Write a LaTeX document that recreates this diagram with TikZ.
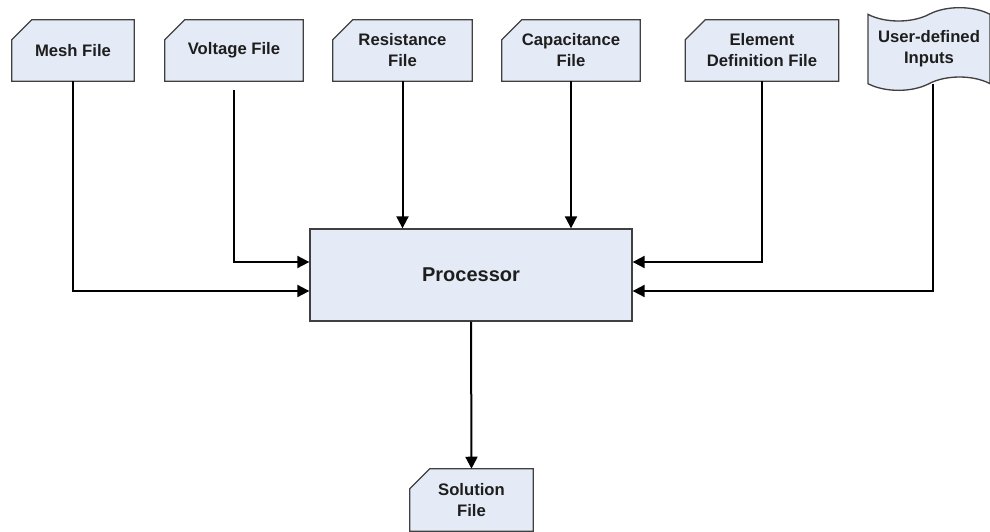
\documentclass[tikz,border=0pt]{standalone}
\usepackage{fontspec}
\setmainfont{Liberation Sans}
\usepackage{xcolor}
\usetikzlibrary{shapes.symbols,arrows.meta,backgrounds}

\definecolor{boxfill}{RGB}{229,235,246}
\definecolor{boxline}{RGB}{64,64,64}
\definecolor{boxtext}{RGB}{30,30,30}

\begin{document}
\begin{tikzpicture}[
		x=0.75pt, y=-0.75pt,
		every node/.style = {align=center, text=boxtext,
			font=\fontsize{12.5}{15.75}\selectfont\bfseries},
		filebox/.style = {rectangle, inner sep=0pt, minimum height=45.75pt},
		fileline/.style = {draw=boxline, line width=1pt, fill=boxfill},
		tapebox/.style = {tape, draw=boxline, line width=1pt, fill=boxfill,
			tape bend height=10pt, inner sep=0pt,
			minimum width=91.5pt, minimum height=62pt},
		procbox/.style = {rectangle, draw=boxline, line width=1pt, fill=boxfill,
			minimum width=241.5pt, minimum height=69pt,
			font=\fontsize{15}{18}\selectfont\bfseries},
		link/.style = {line width=1.5pt, -{Triangle[length=9pt,width=9pt]}}]
		\useasboundingbox (0,0) rectangle (990,532);
		\node[filebox, minimum width=91.5pt] (mesh) at (73,50.5) {Mesh File};
		\node[filebox, minimum width=103.5pt] (volt) at (234,50.5) {Voltage File};
		\node[filebox, minimum width=104.25pt] (resist) at (402.5,50.5) {Resistance\\File};
		\node[filebox, minimum width=103.5pt] (capac) at (571,50.5) {Capacitance\\File};
		\node[filebox, minimum width=114.75pt] (elem) at (762,50.5) {Element\\Definition File};
		\node[tapebox] (user) at (929,49) {User-defined\\Inputs};
		\node[procbox] (proc) at (471,275) {Processor};
		\node[filebox, minimum width=92.25pt, minimum height=46.5pt] (sol) at (471.5,500) {Solution\\File};

		\begin{scope}[on background layer]
			\foreach \n in {mesh,volt,resist,capac,elem,sol}
				\draw[fileline] ([xshift=15pt]\n.north west) -- (\n.north east)
					-- (\n.south east) -- (\n.south west)
					-- ([yshift=-15pt]\n.north west) -- cycle;
		\end{scope}

		\draw[link] (mesh.south) |- ([yshift=-12pt]proc.west);
		\draw[link, shorten <=6.75pt] (volt.south) |- ([yshift=9.75pt]proc.west);
		\draw[link] (resist.south) -- (resist.south |- proc.north);
		\draw[link] (capac.south) -- (capac.south |- proc.north);
		\draw[link] (elem.south) |- ([yshift=9.75pt]proc.east);
		\draw[link] ([xshift=3pt]user.south) |- ([yshift=-12pt]proc.east);
		\draw[link] (proc.south) -- (sol.north);
\end{tikzpicture}
\end{document}
